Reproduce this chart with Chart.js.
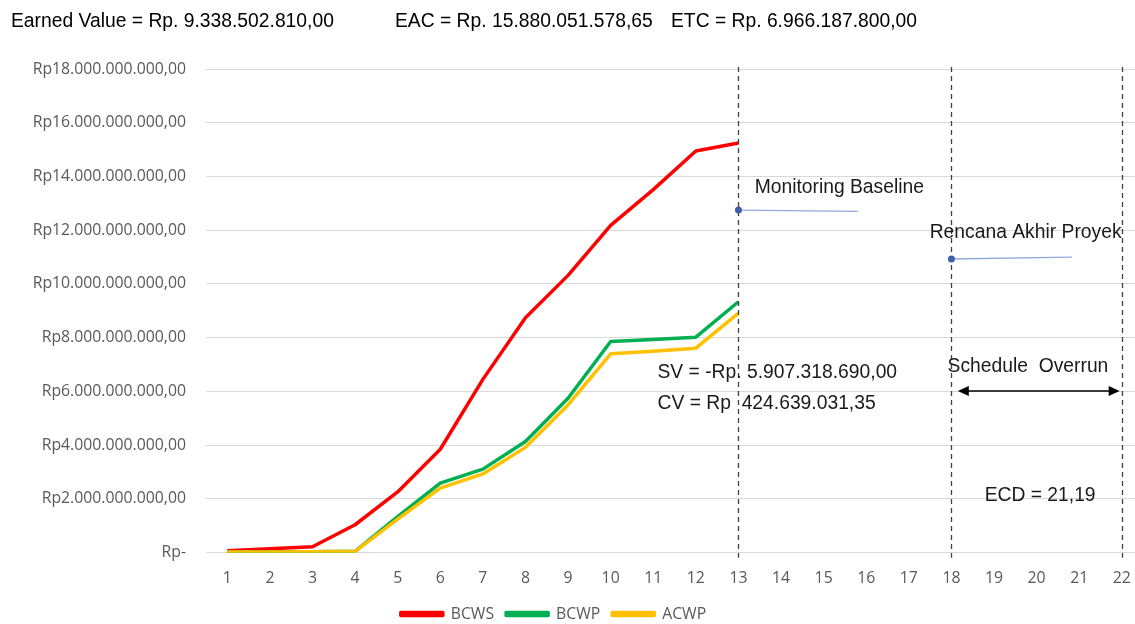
<!DOCTYPE html>
<html>
<head>
<meta charset="utf-8">
<script src="https://cdn.jsdelivr.net/npm/chart.js@4.4.1/dist/chart.umd.min.js"></script>
<style>
    html, body { margin: 0; padding: 0; background: #fff; overflow: hidden; }
    #wrap { width: 1135px; height: 624px; position: relative; }
</style>
</head>
<body>
<div id="wrap"><canvas id="myChart"></canvas></div>
<script>
// weeks on the x axis
var weeks = [1, 2, 3, 4, 5, 6, 7, 8, 9, 10, 11, 12, 13, 14, 15, 16, 17, 18, 19, 20, 21, 22];
// cumulative values (Rp), weeks 1..13
var bcws = [0.07e9, 0.15e9, 0.22e9, 1.04e9, 2.26e9, 3.85e9, 6.45e9, 8.74e9, 10.32e9, 12.18e9, 13.51e9, 14.95e9, 15.246e9];
var bcwp = [0.03e9, 0.03e9, 0.04e9, 0.05e9, 1.34e9, 2.59e9, 3.11e9, 4.14e9, 5.75e9, 7.86e9, 7.93e9, 8.02e9, 9.3385e9];
var acwp = [0.03e9, 0.03e9, 0.04e9, 0.05e9, 1.25e9, 2.40e9, 2.93e9, 3.92e9, 5.50e9, 7.40e9, 7.50e9, 7.61e9, 8.914e9];
var yTickValues = [0, 2e9, 4e9, 6e9, 8e9, 10e9, 12e9, 14e9, 16e9, 18e9];
var yTickLabels = ["Rp-", "Rp2.000.000.000,00", "Rp4.000.000.000,00", "Rp6.000.000.000,00", "Rp8.000.000.000,00",
    "Rp10.000.000.000,00", "Rp12.000.000.000,00", "Rp14.000.000.000,00", "Rp16.000.000.000,00", "Rp18.000.000.000,00"];
// vertical dashed markers: monitoring date, planned end, estimated end
var markerWeeks = [13, 18, 22];

function toPoints(arr) {
    return arr.map(function (v, i) { return { x: weeks[i], y: v }; });
}

var txtFont = "19.3px 'Liberation Sans', Arial, sans-serif";
var axisFont = { family: "'Open Sans', sans-serif", size: 15.8 };

var overlay = {
    id: "overlay",
    afterLayout: function (chart) {
        // excel centres the legend a bit left of the canvas middle
        chart.legend.left -= 14;
        chart.legend.right -= 14;
    },
    afterDatasetsDraw: function (chart) {
        var ctx = chart.ctx, x = chart.scales.x, y = chart.scales.y, area = chart.chartArea;
        ctx.save();
        // dashed verticals
        ctx.strokeStyle = "#404040";
        ctx.lineWidth = 1.3;
        ctx.setLineDash([5, 4]);
        markerWeeks.forEach(function (w) {
            var px = Math.round(x.getPixelForValue(w)) + 0.5;
            ctx.beginPath();
            ctx.moveTo(px, area.top - 2);
            ctx.lineTo(px, area.bottom + 5);
            ctx.stroke();
        });
        ctx.setLineDash([]);

        // callout lines with dots
        var callouts = [[13, 12.75e9, 15.8, 12.7e9], [18, 10.93e9, 20.83, 11.0e9]];
        callouts.forEach(function (c) {
            ctx.strokeStyle = "#8FAADC";
            ctx.lineWidth = 1.3;
            ctx.beginPath();
            ctx.moveTo(x.getPixelForValue(c[0]), y.getPixelForValue(c[1]));
            ctx.lineTo(x.getPixelForValue(c[2]), y.getPixelForValue(c[3]));
            ctx.stroke();
            ctx.fillStyle = "#3F5FA8";
            ctx.beginPath();
            ctx.arc(x.getPixelForValue(c[0]), y.getPixelForValue(c[1]), 3.5, 0, Math.PI * 2);
            ctx.fill();
        });

        // schedule overrun arrow
        var ay = y.getPixelForValue(6.02e9), ax1 = x.getPixelForValue(18.15), ax2 = x.getPixelForValue(21.95);
        ctx.strokeStyle = "#000";
        ctx.fillStyle = "#000";
        ctx.lineWidth = 1.5;
        ctx.beginPath();
        ctx.moveTo(ax1 + 6, ay);
        ctx.lineTo(ax2 - 6, ay);
        ctx.stroke();
        ctx.beginPath();
        ctx.moveTo(ax1, ay); ctx.lineTo(ax1 + 11, ay - 5); ctx.lineTo(ax1 + 11, ay + 5); ctx.closePath();
        ctx.fill();
        ctx.beginPath();
        ctx.moveTo(ax2, ay); ctx.lineTo(ax2 - 11, ay - 5); ctx.lineTo(ax2 - 11, ay + 5); ctx.closePath();
        ctx.fill();

        // labels in the plot
        ctx.font = txtFont;
        ctx.fillStyle = "#1a1a1a";
        ctx.textAlign = "left";
        ctx.textBaseline = "middle";
        var notes = [
            ["Monitoring Baseline", 13.38, 13.6e9],
            ["Rencana Akhir Proyek", 17.49, 11.9e9],
            ["SV = -Rp. 5.907.318.690,00", 11.10, 6.69e9],
            ["CV = Rp  424.639.031,35", 11.10, 5.54e9],
            ["Schedule  Overrun", 17.91, 6.91e9],
            ["ECD = 21,19", 18.78, 2.12e9]
        ];
        notes.forEach(function (n) {
            ctx.fillText(n[0], x.getPixelForValue(n[1]), y.getPixelForValue(n[2]));
        });

        // header line
        ctx.fillStyle = "#000";
        ctx.fillText("Earned Value = Rp. 9.338.502.810,00", 11, 22);
        ctx.fillText("EAC = Rp. 15.880.051.578,65", 395, 22);
        ctx.fillText("ETC = Rp. 6.966.187.800,00", 671, 22);
        ctx.restore();
    }
};

var ctx = document.getElementById("myChart").getContext("2d");
var myChart = new Chart(ctx, {
    type: "line",
    data: {
        datasets: [
            { label: "BCWS", data: toPoints(bcws), borderColor: "#FF0000", backgroundColor: "#FF0000", order: 3 },
            { label: "BCWP", data: toPoints(bcwp), borderColor: "#00B050", backgroundColor: "#00B050", order: 2 },
            { label: "ACWP", data: toPoints(acwp), borderColor: "#FFC000", backgroundColor: "#FFC000", order: 1 }
        ]
    },
    options: {
        responsive: true,
        maintainAspectRatio: false,
        animation: false,
        layout: { padding: { top: 69, right: 0, left: 0, bottom: -8 } },
        elements: {
            line: { borderWidth: 3.5, tension: 0, borderJoinStyle: "round" },
            point: { radius: 0, hoverRadius: 0 }
        },
        plugins: {
            legend: {
                position: "bottom",
                labels: {
                    boxWidth: 42,
                    boxHeight: 3,
                    padding: 12,
                    color: "#595959",
                    font: axisFont,
                    sort: function (a, b) { return a.datasetIndex - b.datasetIndex; }
                }
            },
            tooltip: { enabled: false }
        },
        scales: {
            x: {
                type: "linear",
                min: 0.5,
                max: 22.31,
                grid: { display: false },
                border: { display: false },
                afterBuildTicks: function (scale) {
                    scale.ticks = weeks.map(function (w) { return { value: w }; });
                },
                afterFit: function (scale) {
                    scale.height = 41.5;
                    scale.paddingRight = 0;
                    scale.paddingLeft = 0;
                },
                ticks: {
                    padding: 8,
                    maxRotation: 0,
                    autoSkip: false,
                    color: "#595959",
                    font: axisFont,
                    callback: function (v) { return String(v); }
                }
            },
            y: {
                min: 0,
                max: 18e9,
                grid: { color: "#D9D9D9", lineWidth: 1, drawTicks: false },
                border: { display: false },
                afterBuildTicks: function (scale) {
                    scale.ticks = yTickValues.map(function (v) { return { value: v }; });
                },
                afterFit: function (scale) { scale.width = 206; },
                ticks: {
                    padding: 20,
                    color: "#595959",
                    font: axisFont,
                    callback: function (v) { return yTickLabels[yTickValues.indexOf(v)]; }
                }
            }
        }
    },
    plugins: [overlay]
});
</script>
</body>
</html>
